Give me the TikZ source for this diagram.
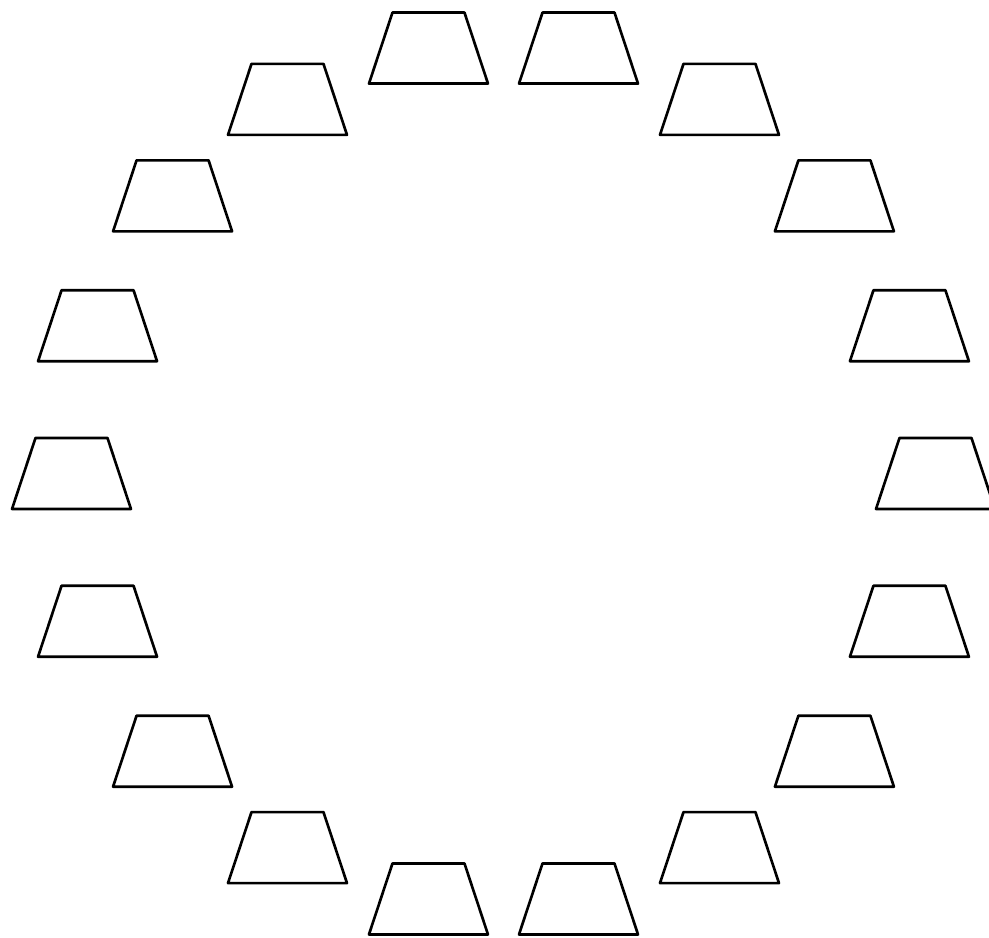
\documentclass[tikz,border=0pt]{standalone}

\begin{document}
\begin{tikzpicture}
    [line width=0.75pt, line join=round]
    %frame
    \useasboundingbox (-5.035,-4.635) rectangle (4.855,4.735);
    %right half
    \draw[shift={(0:4.32)}] (-0.595,-0.355)--(0.595,-0.355)--(0.36,0.355)--(-0.36,0.355)--cycle;
    \draw[shift={(20:4.32)}] (-0.595,-0.355)--(0.595,-0.355)--(0.36,0.355)--(-0.36,0.355)--cycle;
    \draw[shift={(40:4.32)}] (-0.595,-0.355)--(0.595,-0.355)--(0.36,0.355)--(-0.36,0.355)--cycle;
    \draw[shift={(60:4.32)}] (-0.595,-0.355)--(0.595,-0.355)--(0.36,0.355)--(-0.36,0.355)--cycle;
    \draw[shift={(80:4.32)}] (-0.595,-0.355)--(0.595,-0.355)--(0.36,0.355)--(-0.36,0.355)--cycle;
    \draw[shift={(280:4.32)}] (-0.595,-0.355)--(0.595,-0.355)--(0.36,0.355)--(-0.36,0.355)--cycle;
    \draw[shift={(300:4.32)}] (-0.595,-0.355)--(0.595,-0.355)--(0.36,0.355)--(-0.36,0.355)--cycle;
    \draw[shift={(320:4.32)}] (-0.595,-0.355)--(0.595,-0.355)--(0.36,0.355)--(-0.36,0.355)--cycle;
    \draw[shift={(340:4.32)}] (-0.595,-0.355)--(0.595,-0.355)--(0.36,0.355)--(-0.36,0.355)--cycle;
    %left half
    \draw[shift={(100:4.32)}] (-0.595,-0.355)--(0.595,-0.355)--(0.36,0.355)--(-0.36,0.355)--cycle;
    \draw[shift={(120:4.32)}] (-0.595,-0.355)--(0.595,-0.355)--(0.36,0.355)--(-0.36,0.355)--cycle;
    \draw[shift={(140:4.32)}] (-0.595,-0.355)--(0.595,-0.355)--(0.36,0.355)--(-0.36,0.355)--cycle;
    \draw[shift={(160:4.32)}] (-0.595,-0.355)--(0.595,-0.355)--(0.36,0.355)--(-0.36,0.355)--cycle;
    \draw[shift={(180:4.32)}] (-0.595,-0.355)--(0.595,-0.355)--(0.36,0.355)--(-0.36,0.355)--cycle;
    \draw[shift={(200:4.32)}] (-0.595,-0.355)--(0.595,-0.355)--(0.36,0.355)--(-0.36,0.355)--cycle;
    \draw[shift={(220:4.32)}] (-0.595,-0.355)--(0.595,-0.355)--(0.36,0.355)--(-0.36,0.355)--cycle;
    \draw[shift={(240:4.32)}] (-0.595,-0.355)--(0.595,-0.355)--(0.36,0.355)--(-0.36,0.355)--cycle;
    \draw[shift={(260:4.32)}] (-0.595,-0.355)--(0.595,-0.355)--(0.36,0.355)--(-0.36,0.355)--cycle;
\end{tikzpicture}
\end{document}
